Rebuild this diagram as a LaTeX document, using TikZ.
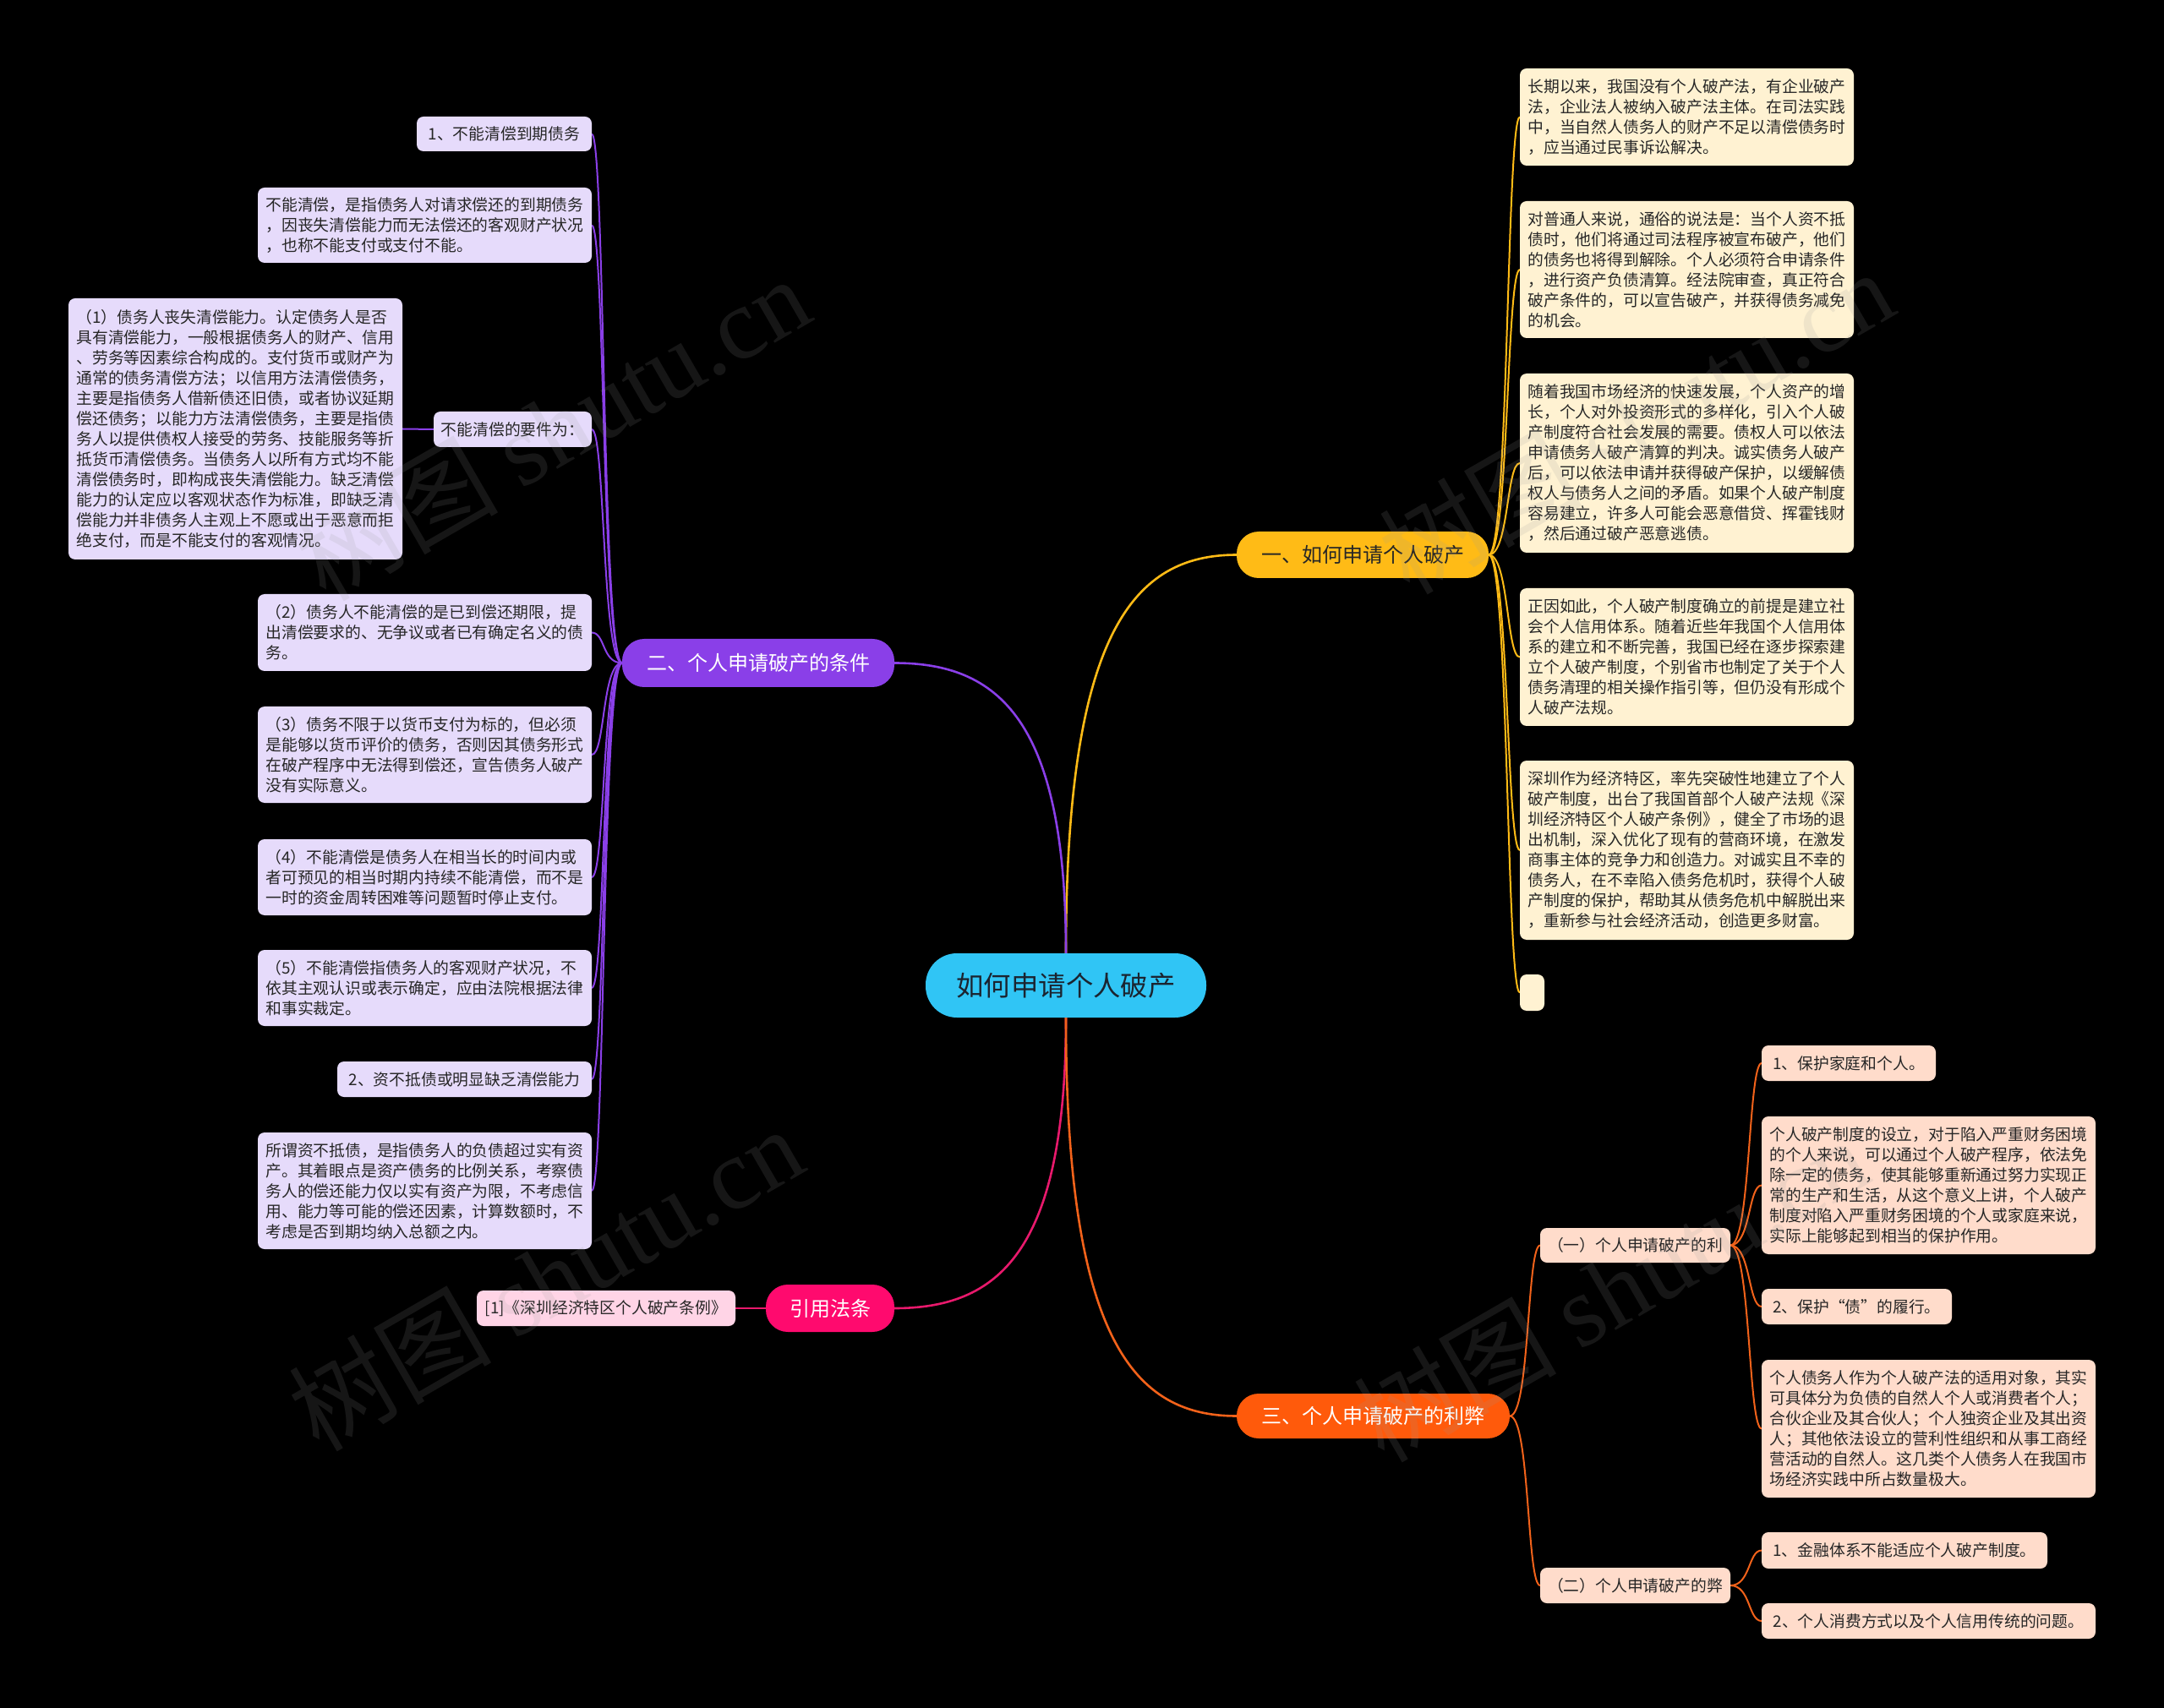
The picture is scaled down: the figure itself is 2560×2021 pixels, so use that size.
\documentclass[tikz,border=0pt]{standalone}
\usepackage{fontspec}
\setmainfont{Noto Sans CJK SC}
\newfontfamily\cjk{Noto Sans CJK SC}
\newfontfamily\wmserif{Liberation Serif}
\usetikzlibrary{calc}
\definecolor{bgc}{HTML}{000000}
\definecolor{cfill}{HTML}{30C5F5}
\definecolor{ctxt}{HTML}{1B2430}
\definecolor{b1fill}{HTML}{FFBB16}
\definecolor{b2fill}{HTML}{8A3FE8}
\definecolor{b3fill}{HTML}{FF0A6E}
\definecolor{b4fill}{HTML}{FF5A0B}
\definecolor{pfill}{HTML}{E6DBFB}
\definecolor{yfill}{HTML}{FFF2D2}
\definecolor{ofill}{HTML}{FFDCCB}
\definecolor{kfill}{HTML}{FFD4E6}
\definecolor{plinkc}{HTML}{8A3FE8}
\definecolor{ylinkc}{HTML}{FFBB16}
\definecolor{olinkc}{HTML}{F2621A}
\definecolor{klinkc}{HTML}{E8196C}
\definecolor{leaftxt}{HTML}{262626}
\definecolor{wmgray}{HTML}{9A9A9A}
\newcommand\leaffont{\cjk\fontsize{9.4}{12}\selectfont}
\newcommand\branchfont{\cjk\fontsize{12}{14}\selectfont}
\newcommand\rootfont{\cjk\fontsize{16.2}{19}\selectfont}
\pgfdeclarelayer{bg}
\pgfdeclarelayer{wmark}
\pgfsetlayers{bg,main,wmark}
\begin{document}
\begin{tikzpicture}[x=0.5pt,y=-0.5pt,
  leaf/.style={rounded corners=4pt, inner sep=0pt, outer sep=0pt, align=left, font=\leaffont, text=leaftxt},
  pleaf/.style={leaf, fill=pfill},
  yleaf/.style={leaf, fill=yfill},
  oleaf/.style={leaf, fill=ofill},
  kleaf/.style={leaf, fill=kfill},
  branch/.style={rounded corners=13pt, inner sep=0pt, outer sep=0pt, font=\branchfont},
  sublink/.style={line width=1pt},
  mainlink/.style={line width=1.3pt},
  wm/.style={text=wmgray, opacity=0.15, rotate=30, font=\fontsize{60}{64}\selectfont}
]
\useasboundingbox (0,0) rectangle (2560,2021);

% ---------- root and main branches ----------
\node[rounded corners=18.5pt, inner sep=0pt, outer sep=0pt, fill=cfill, text=ctxt, font=\rootfont,
      minimum width=166pt, minimum height=38pt] (root) at (1261,1166) {如何申请个人破产};
\node[branch, fill=b1fill, text=leaftxt, minimum width=149pt, minimum height=27.5pt] (b1) at (1612,656.5) {一、如何申请个人破产};
\node[branch, fill=b2fill, text=white, minimum width=161pt, minimum height=28.5pt] (b2) at (897,784.5) {二、个人申请破产的条件};
\node[branch, fill=b3fill, text=white, minimum width=76pt, minimum height=28pt] (b3) at (982,1548) {引用法条};
\node[branch, fill=b4fill, text=white, minimum width=161.5pt, minimum height=26.5pt] (b4) at (1624.5,1675.5) {三、个人申请破产的利弊};

% ---------- purple branch leaves ----------
\node[pleaf, minimum width=103.5pt, minimum height=20.5pt] (p1) at (596.5,158.5) {1、不能清偿到期债务};
\node[pleaf, minimum width=197.5pt, minimum height=44.5pt] (p2) at (502.5,266.5) {不能清偿，是指债务人对请求偿还的到期债务\\，因丧失清偿能力而无法偿还的客观财产状况\\，也称不能支付或支付不能。};
\node[pleaf, minimum width=93.5pt, minimum height=21pt] (p3) at (606.5,508) {不能清偿的要件为：};
\node[pleaf, minimum width=197.5pt, minimum height=154.5pt] (p3a) at (278.5,507.5) {（1）债务人丧失清偿能力。认定债务人是否\\具有清偿能力，一般根据债务人的财产、信用\\、劳务等因素综合构成的。支付货币或财产为\\通常的债务清偿方法；以信用方法清偿债务，\\主要是指债务人借新债还旧债，或者协议延期\\偿还债务；以能力方法清偿债务，主要是指债\\务人以提供债权人接受的劳务、技能服务等折\\抵货币清偿债务。当债务人以所有方式均不能\\清偿债务时，即构成丧失清偿能力。缺乏清偿\\能力的认定应以客观状态作为标准，即缺乏清\\偿能力并非债务人主观上不愿或出于恶意而拒\\绝支付，而是不能支付的客观情况。};
\node[pleaf, minimum width=197.5pt, minimum height=45.5pt] (p4) at (502.5,748.5) {（2）债务人不能清偿的是已到偿还期限，提\\出清偿要求的、无争议或者已有确定名义的债\\务。};
\node[pleaf, minimum width=197.5pt, minimum height=57pt] (p5) at (502.5,893) {（3）债务不限于以货币支付为标的，但必须\\是能够以货币评价的债务，否则因其债务形式\\在破产程序中无法得到偿还，宣告债务人破产\\没有实际意义。};
\node[pleaf, minimum width=197.5pt, minimum height=45pt] (p6) at (502.5,1038) {（4）不能清偿是债务人在相当长的时间内或\\者可预见的相当时期内持续不能清偿，而不是\\一时的资金周转困难等问题暂时停止支付。};
\node[pleaf, minimum width=197.5pt, minimum height=45pt] (p7) at (502.5,1169) {（5）不能清偿指债务人的客观财产状况，不\\依其主观认识或表示确定，应由法院根据法律\\和事实裁定。};
\node[pleaf, minimum width=150.5pt, minimum height=21pt] (p8) at (549.5,1277) {2、资不抵债或明显缺乏清偿能力};
\node[pleaf, minimum width=197.5pt, minimum height=69pt] (p9) at (502.5,1409) {所谓资不抵债，是指债务人的负债超过实有资\\产。其着眼点是资产债务的比例关系，考察债\\务人的偿还能力仅以实有资产为限，不考虑信\\用、能力等可能的偿还因素，计算数额时，不\\考虑是否到期均纳入总额之内。};

% ---------- yellow branch leaves ----------
\node[yleaf, minimum width=197.5pt, minimum height=57.5pt] (y1) at (1995.5,138.5) {长期以来，我国没有个人破产法，有企业破产\\法，企业法人被纳入破产法主体。在司法实践\\中，当自然人债务人的财产不足以清偿债务时\\，应当通过民事诉讼解决。};
\node[yleaf, minimum width=197.5pt, minimum height=81pt] (y2) at (1995.5,319) {对普通人来说，通俗的说法是：当个人资不抵\\债时，他们将通过司法程序被宣布破产，他们\\的债务也将得到解除。个人必须符合申请条件\\，进行资产负债清算。经法院审查，真正符合\\破产条件的，可以宣告破产，并获得债务减免\\的机会。};
\node[yleaf, minimum width=197.5pt, minimum height=106pt] (y3) at (1995.5,548) {随着我国市场经济的快速发展，个人资产的增\\长，个人对外投资形式的多样化，引入个人破\\产制度符合社会发展的需要。债权人可以依法\\申请债务人破产清算的判决。诚实债务人破产\\后，可以依法申请并获得破产保护，以缓解债\\权人与债务人之间的矛盾。如果个人破产制度\\容易建立，许多人可能会恶意借贷、挥霍钱财\\，然后通过破产恶意逃债。};
\node[yleaf, minimum width=197.5pt, minimum height=81.5pt] (y4) at (1995.5,777.5) {正因如此，个人破产制度确立的前提是建立社\\会个人信用体系。随着近些年我国个人信用体\\系的建立和不断完善，我国已经在逐步探索建\\立个人破产制度，个别省市也制定了关于个人\\债务清理的相关操作指引等，但仍没有形成个\\人破产法规。};
\node[yleaf, minimum width=197.5pt, minimum height=106pt] (y5) at (1995.5,1006) {深圳作为经济特区，率先突破性地建立了个人\\破产制度，出台了我国首部个人破产法规《深\\圳经济特区个人破产条例》，健全了市场的退\\出机制，深入优化了现有的营商环境，在激发\\商事主体的竞争力和创造力。对诚实且不幸的\\债务人，在不幸陷入债务危机时，获得个人破\\产制度的保护，帮助其从债务危机中解脱出来\\，重新参与社会经济活动，创造更多财富。};
\node[yleaf, minimum width=14.5pt, minimum height=21.5pt] (y6) at (1812.5,1174.5) {};

% ---------- orange branch leaves ----------
\node[oleaf, minimum width=112.5pt, minimum height=20.5pt] (o1) at (1934.5,1473.5) {（一）个人申请破产的利};
\node[oleaf, minimum width=112.5pt, minimum height=21pt] (o2) at (1934.5,1876) {（二）个人申请破产的弊};
\node[oleaf, minimum width=103pt, minimum height=21pt] (o1a) at (2187,1258) {1、保护家庭和个人。};
\node[oleaf, minimum width=197.5pt, minimum height=81.5pt] (o1b) at (2281.5,1402.5) {个人破产制度的设立，对于陷入严重财务困境\\的个人来说，可以通过个人破产程序，依法免\\除一定的债务，使其能够重新通过努力实现正\\常的生产和生活，从这个意义上讲，个人破产\\制度对陷入严重财务困境的个人或家庭来说，\\实际上能够起到相当的保护作用。};
\node[oleaf, minimum width=112.5pt, minimum height=21pt] (o1c) at (2196.5,1546) {2、保护“债”的履行。};
\node[oleaf, minimum width=197.5pt, minimum height=81.5pt] (o1d) at (2281.5,1690.5) {个人债务人作为个人破产法的适用对象，其实\\可具体分为负债的自然人个人或消费者个人；\\合伙企业及其合伙人；个人独资企业及其出资\\人；其他依法设立的营利性组织和从事工商经\\营活动的自然人。这几类个人债务人在我国市\\场经济实践中所占数量极大。};
\node[oleaf, minimum width=169pt, minimum height=21.5pt] (o2a) at (2253,1834.5) {1、金融体系不能适应个人破产制度。};
\node[oleaf, minimum width=197.5pt, minimum height=21pt] (o2b) at (2281.5,1918) {2、个人消费方式以及个人信用传统的问题。};

% ---------- pink branch leaf ----------
\node[kleaf, minimum width=153pt, minimum height=21pt] (k1) at (717,1548) {[1]《深圳经济特区个人破产条例》};

% ---------- background and connectors ----------
\begin{pgfonlayer}{bg}
\fill[bgc] (0,0) rectangle (2560,2021);
% main curves
\draw[mainlink, ylinkc] (root.north) .. controls ($(root.north)+(0,-382)$) and ($(b1.west)+(-121,0)$) .. (b1.west);
\draw[mainlink, plinkc] (root.north) .. controls ($(root.north)+(0,-278)$) and ($(b2.east)+(122,0)$) .. (b2.east);
\draw[mainlink, klinkc] (root.south) .. controls ($(root.south)+(0,279)$) and ($(b3.east)+(122,0)$) .. (b3.east);
\draw[mainlink, olinkc] (root.south) .. controls ($(root.south)+(0,382)$) and ($(b4.west)+(-121,0)$) .. (b4.west);
% purple sub links
\foreach \n in {p1,p2,p3,p4,p5,p6,p7,p8,p9}{
  \draw[sublink, plinkc] (b2.west) .. controls ($(b2.west)+(-24,0)$) and ($(\n.east)+(16,0)$) .. (\n.east);
}
\draw[sublink, plinkc] (p3.west) -- (p3a.east);
% yellow sub links
\foreach \n in {y1,y2,y3,y4,y5,y6}{
  \draw[sublink, ylinkc] (b1.east) .. controls ($(b1.east)+(24,0)$) and ($(\n.west)+(-16,0)$) .. (\n.west);
}
% orange sub links
\foreach \n in {o1,o2}{
  \draw[sublink, olinkc] (b4.east) .. controls ($(b4.east)+(24,0)$) and ($(\n.west)+(-16,0)$) .. (\n.west);
}
\foreach \n in {o1a,o1b,o1c,o1d}{
  \draw[sublink, olinkc] (o1.east) .. controls ($(o1.east)+(24,0)$) and ($(\n.west)+(-16,0)$) .. (\n.west);
}
\foreach \n in {o2a,o2b}{
  \draw[sublink, olinkc] (o2.east) .. controls ($(o2.east)+(24,0)$) and ($(\n.west)+(-16,0)$) .. (\n.west);
}
% pink sub link
\draw[sublink, klinkc] (b3.west) -- (k1.east);
\end{pgfonlayer}

% ---------- watermarks ----------
\begin{pgfonlayer}{wmark}
\node[wm] (wm1) at (653,506) {{\cjk 树图} {\wmserif shutu.cn}};
\node[wm] (wm2) at (1935,498) {{\cjk 树图} {\wmserif shutu.cn}};
\node[wm] (wm3) at (645,1512) {{\cjk 树图} {\wmserif shutu.cn}};
\node[wm] (wm4) at (1905,1525) {{\cjk 树图} {\wmserif shutu.cn}};
\end{pgfonlayer}
\end{tikzpicture}
\end{document}
